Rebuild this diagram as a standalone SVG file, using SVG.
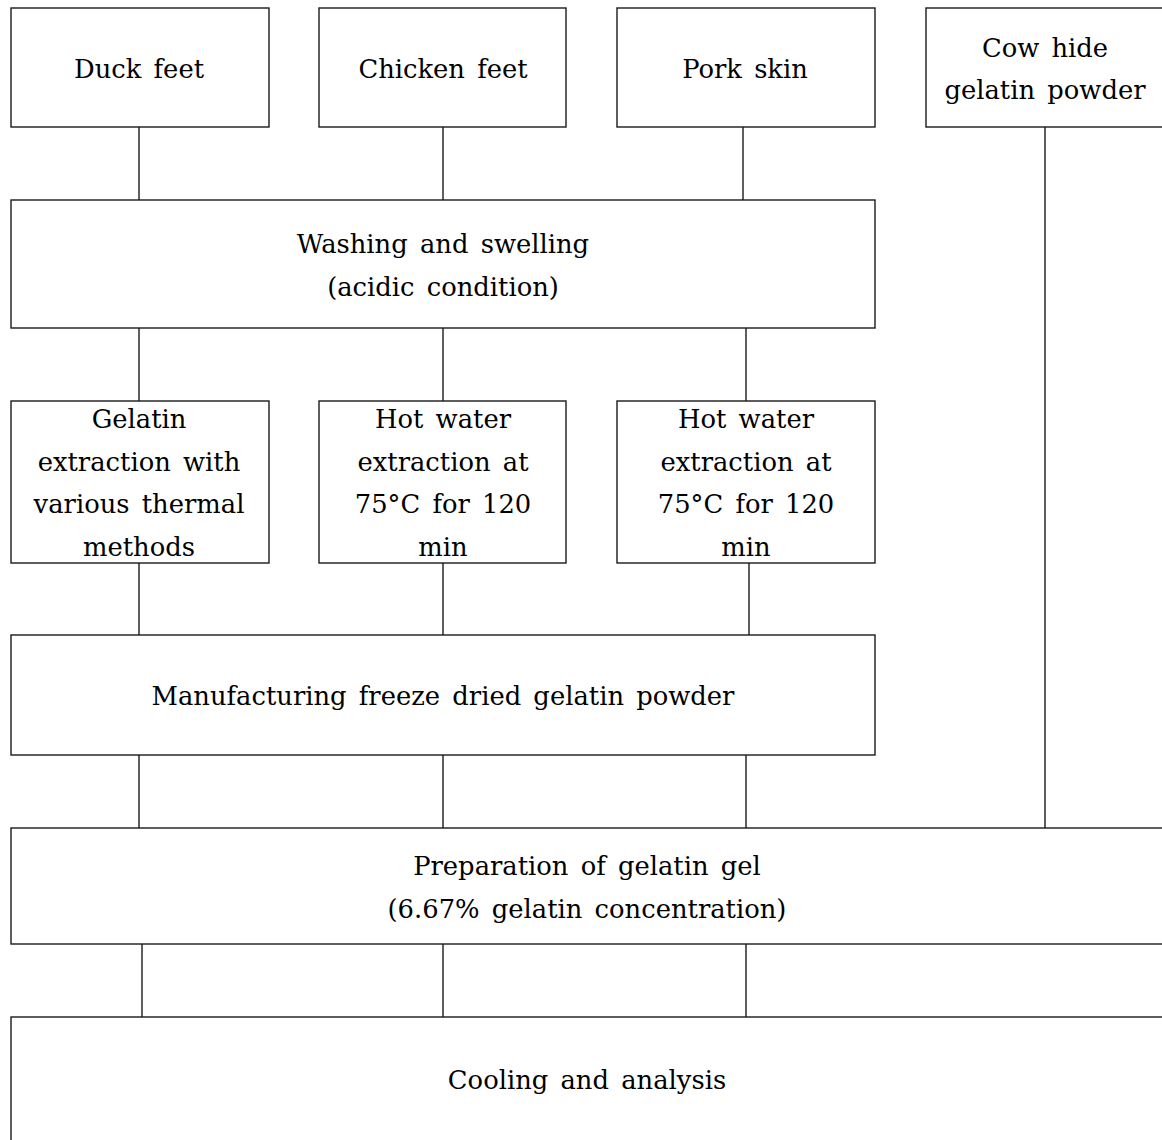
<svg xmlns="http://www.w3.org/2000/svg" width="1162" height="1140" viewBox="0 0 1162 1140">
<style>
.box{fill:#fff;stroke:#1a1a1a;stroke-width:1.4}
.ln{stroke:#1a1a1a;stroke-width:1.4;fill:none}
text{font-family:"DejaVu Serif","Liberation Serif",serif;font-size:25.8px;fill:#000;text-anchor:middle;word-spacing:4px}
</style>
<rect width="1162" height="1140" fill="#fff"/>
<g id="connectors">
<line class="ln" x1="139" y1="127" x2="139" y2="200"/>
<line class="ln" x1="443" y1="127" x2="443" y2="200"/>
<line class="ln" x1="743" y1="127" x2="743" y2="200"/>
<line class="ln" x1="1045" y1="127" x2="1045" y2="828"/>
<line class="ln" x1="139" y1="328" x2="139" y2="401"/>
<line class="ln" x1="443" y1="328" x2="443" y2="401"/>
<line class="ln" x1="746" y1="328" x2="746" y2="401"/>
<line class="ln" x1="139" y1="563" x2="139" y2="635"/>
<line class="ln" x1="443" y1="563" x2="443" y2="635"/>
<line class="ln" x1="749" y1="563" x2="749" y2="635"/>
<line class="ln" x1="139" y1="755" x2="139" y2="828"/>
<line class="ln" x1="443" y1="755" x2="443" y2="828"/>
<line class="ln" x1="746" y1="755" x2="746" y2="828"/>
<line class="ln" x1="142" y1="944" x2="142" y2="1017"/>
<line class="ln" x1="443" y1="944" x2="443" y2="1017"/>
<line class="ln" x1="746" y1="944" x2="746" y2="1017"/>
</g>
<g id="duck"><rect class="box" x="11" y="8" width="258" height="119"/><text x="139" y="78">Duck feet</text></g>
<g id="chicken"><rect class="box" x="319" y="8" width="247" height="119"/><text x="443" y="78">Chicken feet</text></g>
<g id="pork"><rect class="box" x="617" y="8" width="258" height="119"/><text x="745" y="78">Pork skin</text></g>
<g id="cow"><rect class="box" x="926" y="8" width="250" height="119"/><text x="1045" y="57">Cow hide</text><text x="1045" y="99">gelatin powder</text></g>
<g id="washing"><rect class="box" x="11" y="200" width="864" height="128"/><text x="443" y="253">Washing and swelling</text><text x="443" y="296">(acidic condition)</text></g>
<g id="ext1"><rect class="box" x="11" y="401" width="258" height="162"/><text x="139" y="428">Gelatin</text><text x="139" y="471">extraction with</text><text x="139" y="513">various thermal</text><text x="139" y="556">methods</text></g>
<g id="ext2"><rect class="box" x="319" y="401" width="247" height="162"/><text x="443" y="428">Hot water</text><text x="443" y="471">extraction at</text><text x="443" y="513">75°C for 120</text><text x="443" y="556">min</text></g>
<g id="ext3"><rect class="box" x="617" y="401" width="258" height="162"/><text x="746" y="428">Hot water</text><text x="746" y="471">extraction at</text><text x="746" y="513">75°C for 120</text><text x="746" y="556">min</text></g>
<g id="manufacturing"><rect class="box" x="11" y="635" width="864" height="120"/><text x="443" y="705">Manufacturing freeze dried gelatin powder</text></g>
<g id="preparation"><rect class="box" x="11" y="828" width="1165" height="116"/><text x="587" y="875">Preparation of gelatin gel</text><text x="587" y="918">(6.67% gelatin concentration)</text></g>
<g id="cooling"><rect class="box" x="11" y="1017" width="1165" height="140"/><text x="587" y="1089">Cooling and analysis</text></g>
</svg>
